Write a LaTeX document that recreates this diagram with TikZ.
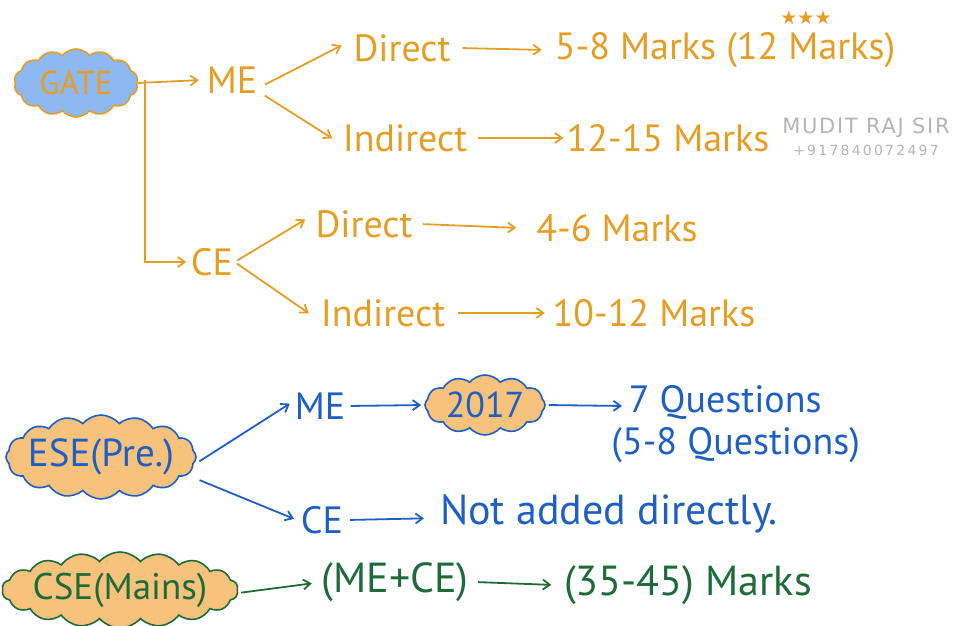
\documentclass[tikz,border=0pt]{standalone}
\usepackage{fontspec}
\setmainfont{PT Sans}
\newfontfamily\symfont{DejaVu Sans}
\newfontfamily\wmfont[LetterSpace=8]{DejaVu Sans}
\newfontfamily\wmnfont[LetterSpace=16]{DejaVu Sans}
\usetikzlibrary{arrows.meta,shapes.symbols}
\definecolor{gor}{HTML}{E59E24}
\definecolor{gbl}{HTML}{1F5FC4}
\definecolor{ggr}{HTML}{1E6B3A}
\definecolor{cbl}{HTML}{8DB8F2}
\definecolor{cor}{HTML}{F6C27C}
\definecolor{wm}{HTML}{B4B4B4}
\newcommand{\inbox}[1]{\makebox[30pt]{#1}}
\tikzset{
  txt/.style={inner sep=0pt, font=\fontsize{38}{42}\selectfont, minimum height=40pt},
  otxt/.style={txt, text=gor},
  btxt/.style={txt, text=gbl},
  gtxt/.style={txt, text=ggr, font=\fontsize{42}{46}\selectfont},
  cl/.style={cloud, cloud ignores aspect, cloud puffs=16, cloud puff arc=100,
    inner sep=0pt, line width=1.6pt, font=\fontsize{40}{44}\selectfont},
  arr/.style={line width=1.8pt, -{Straight Barb[length=7pt,width=10pt]}, shorten <=3pt, shorten >=3pt},
  oar/.style={arr, draw=gor},
  bar/.style={arr, draw=gbl},
  gar/.style={arr, draw=ggr},
}
\begin{document}
\begin{tikzpicture}[x=1pt,y=-1pt]
\useasboundingbox (0,0) rectangle (974,626);
% GATE section
\node[cl, cloud puffs=14, fill=cbl, draw=gor, text=gor, minimum width=124pt, minimum height=68pt, font=\fontsize{33}{36}\selectfont] (gate) at (76,83) {\inbox{GATE}};
\node[otxt, minimum width=60pt] (me) at (232,80) {ME};
\node[otxt, minimum width=115pt] (dir1) at (402,48) {Direct};
\node[otxt, minimum width=360pt] (m1) at (725,50) {5-8 Marks (12 Marks)};
\node[text=gor, font=\symfont\fontsize{19}{19}\selectfont, inner sep=0pt] (stars) at (806,18) {★★★};
\node[otxt, minimum width=140pt] (ind1) at (405,138) {Indirect};
\node[otxt, minimum width=193pt] (m2) at (668,138) {12-15 Marks};
\node[text=wm, font=\wmfont\fontsize{21}{21}\selectfont, inner sep=0pt] (wm1) at (866,128) {MUDIT RAJ SIR};
\node[text=wm, font=\wmnfont\fontsize{14}{14}\selectfont, inner sep=0pt] (wm2) at (866,150) {+917840072497};
\node[otxt, minimum width=45pt] (ce) at (212,262) {CE};
\node[otxt, minimum width=112pt] (dir2) at (364,224) {Direct};
\node[otxt, minimum width=195pt] (m3) at (617,228) {4-6 Marks};
\node[otxt, minimum width=143pt] (ind2) at (383,313) {Indirect};
\node[otxt, minimum width=212pt] (m4) at (654,313) {10-12 Marks};
\coordinate (bend) at (145,80);
\draw[oar, shorten <=0pt] (gate.east) -- (me.west);
\draw[oar, shorten <=0pt] (bend) |- (ce.west);
\draw[oar] ([yshift=-6pt]me.east) -- ([yshift=4pt]dir1.west);
\draw[oar] ([yshift=-14pt]me.east) -- ([yshift=-2pt]ind1.west);
\draw[oar] (dir1.east) -- (m1.west);
\draw[oar] (ind1.east) -- (m2.west);
\draw[oar] (ce.east) -- ([yshift=6pt]dir2.west);
\draw[oar] (ce.east) -- ([yshift=-2pt]ind2.west);
\draw[oar] (dir2.east) -- (m3.west);
\draw[oar] (ind2.east) -- (m4.west);
% ESE section
\node[cl, fill=cor, draw=gbl, text=gbl, minimum width=190pt, minimum height=84pt, font=\fontsize{39}{43}\selectfont] (ese) at (101,457) {\inbox{ESE(Pre.)}};
\node[btxt, minimum width=55pt] (me2) at (320,406) {ME};
\node[cl, cloud puffs=12, fill=cor, draw=gbl, text=gbl, minimum width=120pt, minimum height=60pt, font=\fontsize{36}{40}\selectfont] (y17) at (485,405) {\inbox{2017}};
\node[btxt, minimum width=200pt, anchor=west] (q1) at (625,402) {7 Questions};
\node[btxt, minimum width=275pt, anchor=west] (q2) at (598,445) {(5-8 Questions)};
\node[btxt, minimum width=50pt] (ce2) at (322,520) {CE};
\node[btxt, font=\fontsize{42}{46}\selectfont, anchor=west] (nad) at (440,514) {Not added directly.};
\draw[bar] ([yshift=-6pt]ese.east) -- ([yshift=4pt]me2.west);
\draw[bar] ([yshift=-22pt]ese.east) -- (ce2.west);
\draw[bar] (me2.east) -- (y17.west);
\draw[bar] (y17.east) -- ([yshift=-4pt]q1.west);
\draw[bar, shorten >=16pt] (ce2.east) -- ([yshift=-4pt]nad.west);
% CSE section
\node[cl, cloud puffs=18, fill=cor, draw=ggr, text=ggr, minimum width=236pt, minimum height=76pt, font=\fontsize{37}{41}\selectfont] (cse) at (120,590) {\inbox{CSE(Mains)}};
\node[gtxt, minimum width=160pt] (mece) at (395,582) {(ME+CE)};
\node[gtxt, minimum width=267pt] (m5) at (688,585) {(35-45) Marks};
\draw[gar] ([yshift=-3pt]cse.east) -- ([yshift=-1pt]mece.west);
\draw[gar] (mece.east) -- (m5.west);
\end{tikzpicture}
\end{document}
